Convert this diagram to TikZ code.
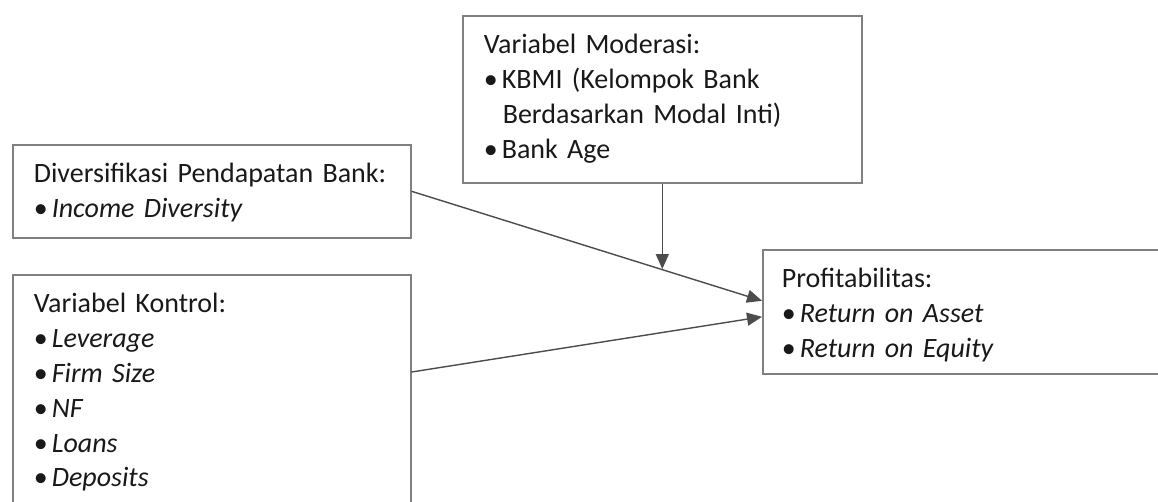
\documentclass[tikz,border=0pt]{standalone}
\usepackage{fontspec}
\setmainfont{Carlito}
\usepackage{tikz}
\usetikzlibrary{arrows.meta}
\tikzstyle{box} = [draw=black!50, line width=1.6pt, anchor=north west, align=left,
  inner xsep=21pt, inner ysep=0pt, text height=38pt, text=black!90,
  font=\fontsize{28pt}{34.8pt}\selectfont]
\newcommand{\itm}[1]{\makebox[18pt][l]{\textbullet}#1}

\begin{document}
\begin{tikzpicture}[x=1pt,y=-1pt,->,>={Triangle[length=15pt,width=13pt]},
  line width=1.4pt, draw=black!70]

\useasboundingbox (0,0) rectangle (1158,501);

\node[box, text width=357pt, text depth=129pt] (mod) at (462,15)
{Variabel Moderasi:\\ \itm{KBMI (Kelompok Bank}\\ \hspace*{19pt}Berdasarkan Modal Inti)\\ \itm{Bank Age}};
\node[box, text width=356pt, text depth=55pt] (div) at (12,144)
{Diversifikasi Pendapatan Bank:\\ \itm{\textit{Income Diversity}}};
\node[box, text width=356pt, text depth=202pt] (ktr) at (12,274)
{Variabel Kontrol:\\ \itm{\textit{Leverage}}\\ \itm{\textit{Firm Size}}\\ \itm{\textit{NF}}\\ \itm{\textit{Loans}}\\ \itm{\textit{Deposits}}};
\node[box, text width=380pt, inner xsep=19pt, text depth=86pt] (prof) at (762,249)
{Profitabilitas:\\ \itm{\textit{Return on Asset}}\\ \itm{\textit{Return on Equity}}};

\path (div.east) -- ([yshift=11pt]prof.west) coordinate[pos=0.71] (mid);

\path
(div.east) edge [] ([yshift=11pt]prof.west)
([yshift=-98pt]ktr.north east) edge [] ([yshift=-5pt]prof.west)
(mod.south) edge [] (mod.south |- mid);

\end{tikzpicture}
\end{document}
